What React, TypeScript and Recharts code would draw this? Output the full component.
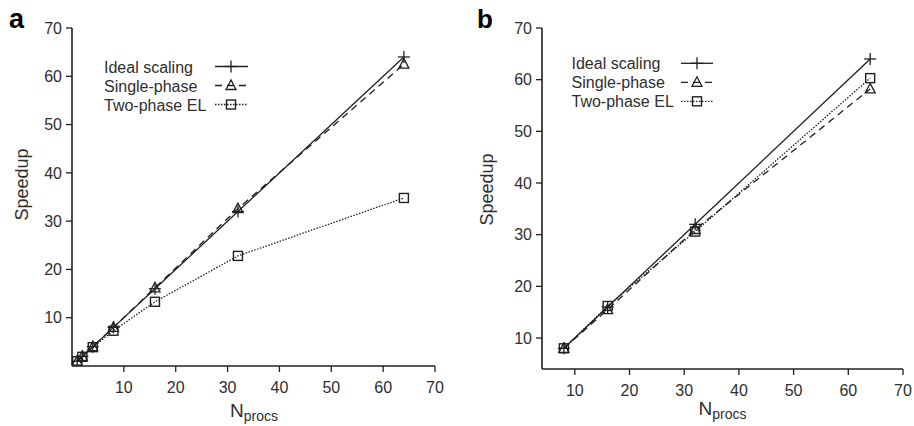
import React from 'react';
import { LineChart, Line, XAxis, YAxis } from 'recharts';

const procsA = [1, 2, 4, 8, 16, 32, 64];
const idealA = [1, 2, 4, 8, 16, 32, 64];
const singleA = [1, 2, 4, 8, 16.2, 32.6, 62.5];
const twoA = [1, 1.9, 3.9, 7.3, 13.3, 22.8, 34.8];

const procsB = [8, 16, 32, 64];
const idealB = [8, 16, 32, 64];
const singleB = [8, 15.5, 31, 58.2];
const twoB = [8, 16.2, 30.6, 60.3];

const xTicks = [10, 20, 30, 40, 50, 60, 70];
const yTicks = [10, 20, 30, 40, 50, 60, 70];
const seriesNames = ['Ideal scaling', 'Single-phase', 'Two-phase EL'];

const FONT = '"Liberation Sans", Arial, Helvetica, sans-serif';
const INK = '#231f20';
const TXT = '#2e2e2e';

const dataA = procsA.map((x, i) => ({ x, ideal: idealA[i], single: singleA[i], two: twoA[i] }));
const dataB = procsB.map((x, i) => ({ x, ideal: idealB[i], single: singleB[i], two: twoB[i] }));

const Plus = ({ cx, cy }: any) => (
  <g>
    <line x1={cx - 6} y1={cy} x2={cx + 6} y2={cy} stroke={INK} strokeWidth={1.3} />
    <line x1={cx} y1={cy - 6} x2={cx} y2={cy + 6} stroke={INK} strokeWidth={1.3} />
  </g>
);
const Tri = ({ cx, cy }: any) => (
  <polygon
    points={`${cx},${cy - 5.5} ${cx - 5},${cy + 4} ${cx + 5},${cy + 4}`}
    fill="none"
    stroke={INK}
    strokeWidth={1.3}
  />
);
const Sq = ({ cx, cy }: any) => (
  <rect x={cx - 4.5} y={cy - 4.5} width={9} height={9} fill="none" stroke={INK} strokeWidth={1.4} />
);

const DASH = '7 5';
const DOT = '1.5 1.5';

const tickStyle = { fill: TXT, fontSize: 16, fontFamily: FONT };

function Panel({ data, xMin, yMin, margin, width }: any) {
  return (
    <LineChart width={width} height={426} data={data} margin={margin}>
      <XAxis
        dataKey="x"
        type="number"
        domain={[xMin, 70]}
        ticks={xTicks}
        allowDataOverflow
        height={30}
        tick={tickStyle}
        tickSize={6}
        tickMargin={10}
        stroke={INK}
        axisLine={{ stroke: INK, strokeWidth: 1.6 }}
        tickLine={{ stroke: INK, strokeWidth: 1.3 }}
      />
      <YAxis
        type="number"
        domain={[yMin, 70]}
        ticks={yTicks}
        allowDataOverflow
        width={40}
        tick={tickStyle}
        tickSize={6}
        tickMargin={4}
        stroke={INK}
        axisLine={{ stroke: INK, strokeWidth: 1.6 }}
        tickLine={{ stroke: INK, strokeWidth: 1.3 }}
      />
      <Line
        dataKey="ideal"
        name={seriesNames[0]}
        stroke={INK}
        strokeWidth={1.3}
        isAnimationActive={false}
        dot={(p: any) => <Plus key={`p${p.index}`} cx={p.cx} cy={p.cy} />}
      />
      <Line
        dataKey="single"
        name={seriesNames[1]}
        stroke={INK}
        strokeWidth={1.3}
        strokeDasharray={DASH}
        isAnimationActive={false}
        dot={(p: any) => <Tri key={`t${p.index}`} cx={p.cx} cy={p.cy} />}
      />
      <Line
        dataKey="two"
        name={seriesNames[2]}
        stroke={INK}
        strokeWidth={1.3}
        strokeDasharray={DOT}
        isAnimationActive={false}
        dot={(p: any) => <Sq key={`s${p.index}`} cx={p.cx} cy={p.cy} />}
      />
    </LineChart>
  );
}

function Legend({ tx, base, lx1, lx2, mx }: any) {
  const rows = [0, 1, 2];
  return (
    <g>
      {rows.map((r) => {
        const by = base + r * 19;
        const ly = by - 6;
        return (
          <g key={r}>
            <text x={tx} y={by} fontSize={16} fontFamily={FONT} fill={TXT}>
              {seriesNames[r]}
            </text>
            <line
              x1={lx1}
              x2={lx2}
              y1={ly}
              y2={ly}
              stroke={INK}
              strokeWidth={1.3}
              strokeDasharray={r === 0 ? undefined : r === 1 ? DASH : DOT}
            />
            {r === 0 && <Plus cx={mx} cy={ly} />}
            {r === 1 && <Tri cx={mx} cy={ly} />}
            {r === 2 && <Sq cx={mx} cy={ly} />}
          </g>
        );
      })}
    </g>
  );
}

export default function App() {
  return (
    <div style={{ position: 'absolute', left: 0, top: 0, width: 914, height: 426, background: '#fff', fontFamily: FONT }}>
      <div style={{ position: 'absolute', left: 0, top: 0 }}>
        <Panel data={dataA} xMin={0} yMin={0} width={460} margin={{ top: 28, right: 25, bottom: 30, left: 32 }} />
      </div>
      <div style={{ position: 'absolute', left: 460, top: 0 }}>
        <Panel data={dataB} xMin={4} yMin={4} width={454} margin={{ top: 28, right: 11, bottom: 27, left: 42 }} />
      </div>
      <svg width={914} height={426} style={{ position: 'absolute', left: 0, top: 0, pointerEvents: 'none' }}>
        <text x={9} y={28} fontSize={27} fontWeight="bold" fontFamily={FONT} fill="#000">a</text>
        <text x={477} y={28} fontSize={26} fontWeight="bold" fontFamily={FONT} fill="#000">b</text>
        <Legend tx={104} base={72.5} lx1={215} lx2={248} mx={231} />
        <Legend tx={571.5} base={69.3} lx1={681} lx2={713} mx={697} />
        <text
          x={22}
          y={184.5}
          transform="rotate(-90 22 184.5)"
          textAnchor="middle"
          dominantBaseline="central"
          fontSize={18}
          fontFamily={FONT}
          fill={TXT}
        >
          Speedup
        </text>
        <text
          x={487}
          y={189.5}
          transform="rotate(-90 487 189.5)"
          textAnchor="middle"
          dominantBaseline="central"
          fontSize={18}
          fontFamily={FONT}
          fill={TXT}
        >
          Speedup
        </text>
        <text x={230} y={416.5} fontSize={19} fontFamily={FONT} fill={TXT}>
          N<tspan fontSize={14} dy={4}>procs</tspan>
        </text>
        <text x={698.5} y={415} fontSize={19} fontFamily={FONT} fill={TXT}>
          N<tspan fontSize={14} dy={4}>procs</tspan>
        </text>
      </svg>
    </div>
  );
}
